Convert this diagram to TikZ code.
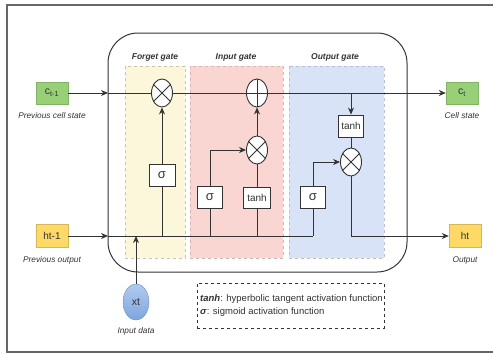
\documentclass[tikz,border=0pt]{standalone}
\usepackage{fontspec}
\setmainfont{Liberation Sans}
\usepackage{xcolor}
\usepackage{tikz}
\usetikzlibrary{positioning, arrows.meta, shapes.geometric}
\definecolor{ink}{HTML}{333333}
\definecolor{cellgreen}{HTML}{97D077}
\definecolor{cellgreenline}{HTML}{82B366}
\definecolor{outyellow}{HTML}{FFD966}
\definecolor{outyellowline}{HTML}{D6B656}
\definecolor{inblue}{HTML}{7EA6E0}
\definecolor{inblueline}{HTML}{6C8EBF}
\definecolor{forgetbg}{HTML}{FCF6DA}
\definecolor{inputbg}{HTML}{F9D6D2}
\definecolor{outputbg}{HTML}{D8E3F8}
\newcommand{\fs}[1]{\fontsize{#1}{#1}\selectfont}

\begin{document}
\begin{tikzpicture}[x=1pt, y=-1pt,
    every node/.style={font=\fs{8}, text=ink},
    wire/.style={draw=ink, line width=0.9pt},
    arr/.style={wire, -{Stealth[length=7pt, width=6pt]}},
    opnode/.style={draw=ink, line width=0.9pt, fill=white, ellipse,
                   minimum width=21pt, minimum height=28pt, inner sep=0pt},
    actbox/.style={draw=ink, line width=0.9pt, fill=white, inner sep=0pt,
                   minimum height=22pt},
    caption/.style={font=\fs{8.3}\itshape},
    gatetitle/.style={font=\fs{8.5}\bfseries\itshape}]
  \useasboundingbox (0,0) rectangle (493,354);
  % frame
  \draw[line width=1.4pt, gray!80!black] (493,5) -- (7,5) -- (7,352) -- (493,352);

  % gate backgrounds
  \fill[forgetbg] (125,66) rectangle (185,258);
  \draw[forgetbg!80!black, dashed, line width=0.4pt] (125,66) rectangle (185,258);
  \fill[inputbg] (190,66) rectangle (283,258);
  \draw[inputbg!85!black, dashed, line width=0.4pt] (190,66) rectangle (283,258);
  \fill[outputbg] (289,66) rectangle (384,258);
  \draw[outputbg!85!black, dashed, line width=0.4pt] (289,66) rectangle (384,258);
  \node[gatetitle] (tforget) at (155,57) {Forget gate};
  \node[gatetitle] (tinput) at (236,57) {Input gate};
  \node[gatetitle] (toutput) at (335,57) {Output gate};

  % cell
  \draw[ink, line width=1pt, rounded corners=30pt] (108,33) rectangle (407,272);

  % inputs and outputs
  \node[draw=cellgreenline, fill=cellgreen, minimum width=32pt, minimum height=22pt,
        inner sep=0pt, font=\fs{10.5}] (cprev) at (52,93) {c\textsubscript{t-1}};
  \node[caption, below=5pt of cprev] (lcprev) {Previous cell state};
  \node[draw=outyellowline, fill=outyellow, minimum width=32pt, minimum height=23pt,
        inner sep=0pt, font=\fs{10}] (hprev) at (52,236) {ht-1};
  \node[caption, below=5pt of hprev] (lhprev) {Previous output};
  \node[draw=cellgreenline, fill=cellgreen, minimum width=32pt, minimum height=22pt,
        inner sep=0pt, font=\fs{10.5}] (cnext) at (462,93) {c\textsubscript{t}};
  \node[caption, below=5pt of cnext] (lcnext) {Cell state};
  \node[draw=outyellowline, fill=outyellow, minimum width=32pt, minimum height=23pt,
        inner sep=0pt, font=\fs{10}] (hnext) at (465,236) {ht};
  \node[caption, below=5pt of hnext] (lhnext) {Output};
  \node[ellipse, draw=inblueline, top color=inblue!60, bottom color=inblue,
        minimum width=26pt, minimum height=36pt, inner sep=0pt,
        font=\fs{10.5}] (xt) at (136,302) {xt};
  \node[caption, below=4pt of xt] (lxt) {Input data};

  % operations
  \node[opnode] (fmul) at (162,93) {};
  \node[opnode] (iadd) at (257,93) {};
  \node[opnode] (imul) at (257,150) {};
  \node[opnode] (omul) at (351,162) {};
  \foreach \m in {fmul, imul, omul}
    \draw[ink, line width=0.9pt] (\m.45) -- (\m.225) (\m.135) -- (\m.315);
  \draw[ink, line width=0.9pt] (iadd.north) -- (iadd.south) (iadd.west) -- (iadd.east);

  \node[actbox, minimum width=26pt, font=\fs{13}] (fsig) at (162,175) {σ};
  \node[actbox, minimum width=25pt, font=\fs{13}] (isig) at (210,197) {σ};
  \node[actbox, minimum width=27pt, minimum height=21pt, font=\fs{10}] (itanh) at (257,198) {tanh};
  \node[actbox, minimum width=25pt, font=\fs{13}] (osig) at (313,197) {σ};
  \node[actbox, minimum width=25pt, font=\fs{10}] (otanh) at (351,126) {tanh};

  % cell state line
  \coordinate (cedge) at (108,93);
  \draw[arr] (cprev) -- (cedge);
  \draw[wire] (cedge) -- (fmul) -- (iadd);
  \draw[arr] (iadd) -- (cnext);

  % hidden state line
  \coordinate (hedge) at (108,236);
  \draw[arr] (hprev) -- (hedge);
  \draw[wire] (hedge) -- (osig |- hedge);
  \draw[arr] (xt) -- (xt |- hedge);

  % gates
  \draw[wire] (fsig) -- (fsig |- hedge);
  \draw[arr] (fsig) -- (fmul);
  \draw[wire] (isig) -- (isig |- hedge);
  \draw[arr] (isig.north) |- (imul.west);
  \draw[wire] (itanh) -- (itanh |- hedge);
  \draw[wire] (itanh) -- (imul);
  \draw[arr] (imul) -- (iadd);
  \draw[arr] (otanh |- cedge) -- (otanh);
  \draw[wire] (otanh) -- (omul);
  \draw[wire] (osig) -- (osig |- hedge);
  \draw[arr] (osig.north) |- (omul.west);
  \draw[arr] (omul.south) |- (hnext.west);

  % legend
  \node[draw=ink, dashed, line width=0.6pt, minimum width=187pt, minimum height=45pt,
        anchor=north west] (legend) at (197,283) {};
  \node[anchor=west, font=\fs{9.5}, align=left, inner sep=0pt] (legtext) at (200,305.5)
    {\textbf{\textit{tanh}}: hyperbolic tangent activation function\\[3pt]
     \textbf{\textit{σ}}: sigmoid activation function};
\end{tikzpicture}
\end{document}
